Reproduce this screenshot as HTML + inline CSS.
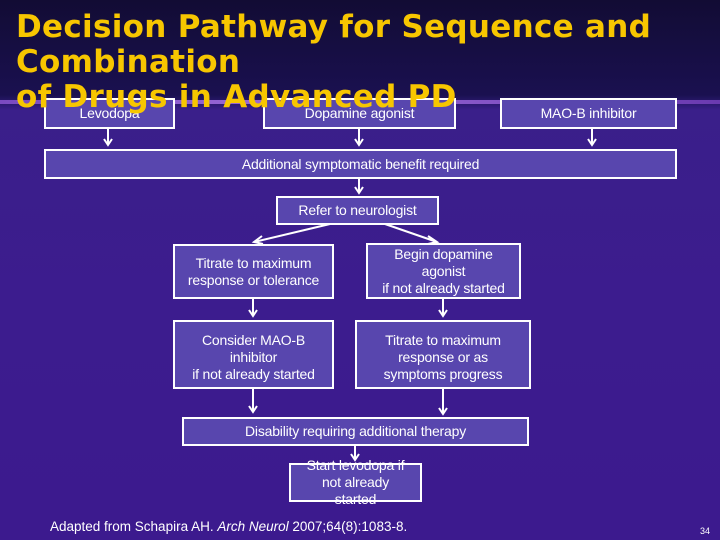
<!DOCTYPE html>
<html><head><meta charset="utf-8"><style>
body{margin:0}
#s{position:relative;width:720px;height:540px;overflow:hidden;background:linear-gradient(180deg,#120c34 0px,#1a1050 95px,#3a1f8a 110px,#3c1c8e 300px,#3c1a8e 540px);font-family:"Liberation Sans",sans-serif}
.b{position:absolute;box-sizing:border-box;border:2px solid #fff;background:#5846ae;color:#fff;font-size:14px;line-height:17px;text-align:center;display:flex;align-items:center;justify-content:center;letter-spacing:-0.2px;white-space:nowrap}
h1{position:absolute;left:16px;top:10px;margin:0;font-family:"DejaVu Sans",sans-serif;font-weight:bold;font-size:31px;line-height:35px;color:#f7c600;z-index:2;letter-spacing:0.3px;white-space:nowrap}
.ln{position:absolute;left:0;top:100px;width:720px;height:4px;background:linear-gradient(90deg,#7a4ac0,#9a6ad8 40%,#6a3ab0)}
</style></head><body><div id="s">
<div class="ln"></div>
<svg width="720" height="540" style="position:absolute;left:0;top:0" fill="none" stroke="#fff" stroke-width="2">
<g>
<path d="M108 128V145M104 139l4 6 4-6"/>
<path d="M359 128V145M355 139l4 6 4-6"/>
<path d="M592 128V145M588 139l4 6 4-6"/>
<path d="M359 178V193M355 187l4 6 4-6"/>
<path d="M330 224L254 242M262 236l-8 6 9 2"/>
<path d="M385 224L437 242M428 236l9 6-9 2"/>
<path d="M253 298V316M249 310l4 6 4-6"/>
<path d="M443 298V316M439 310l4 6 4-6"/>
<path d="M253 388V412M249 406l4 6 4-6"/>
<path d="M443 388V414M439 408l4 6 4-6"/>
<path d="M355 445V460M351 454l4 6 4-6"/>
</g></svg>
<h1>Decision Pathway for Sequence and<br>Combination<br>of Drugs in Advanced PD</h1>
<div class="b" style="left:44px;top:98px;width:131px;height:31px;align-items:flex-start;padding-top:5px">Levodopa</div>
<div class="b" style="left:263px;top:98px;width:193px;height:31px;align-items:flex-start;padding-top:5px">Dopamine agonist</div>
<div class="b" style="left:500px;top:98px;width:177px;height:31px">MAO-B inhibitor</div>
<div class="b" style="left:44px;top:149px;width:633px;height:30px">Additional symptomatic benefit required</div>
<div class="b" style="left:276px;top:196px;width:163px;height:29px">Refer to neurologist</div>
<div class="b" style="left:173px;top:244px;width:161px;height:55px">Titrate to maximum<br>response or tolerance</div>
<div class="b" style="left:366px;top:243px;width:155px;height:56px">Begin dopamine<br>agonist<br>if not already started</div>
<div class="b" style="left:173px;top:320px;width:161px;height:69px;align-items:flex-start;padding-top:10px">Consider MAO-B<br>inhibitor<br>if not already started</div>
<div class="b" style="left:355px;top:320px;width:176px;height:69px;align-items:flex-start;padding-top:10px">Titrate to maximum<br>response or as<br>symptoms progress</div>
<div class="b" style="left:182px;top:417px;width:347px;height:29px">Disability requiring additional therapy</div>
<div class="b" style="left:289px;top:463px;width:133px;height:39px;line-height:17px">Start levodopa if<br>not already<br>started</div>
<div style="position:absolute;left:50px;top:519px;color:#fff;font-size:13.5px;white-space:nowrap">Adapted from Schapira AH. <i>Arch Neurol</i> 2007;64(8):1083-8.</div>
<div style="position:absolute;left:700px;top:526px;color:#fff;font-size:9px">34</div>
</div></body></html>
